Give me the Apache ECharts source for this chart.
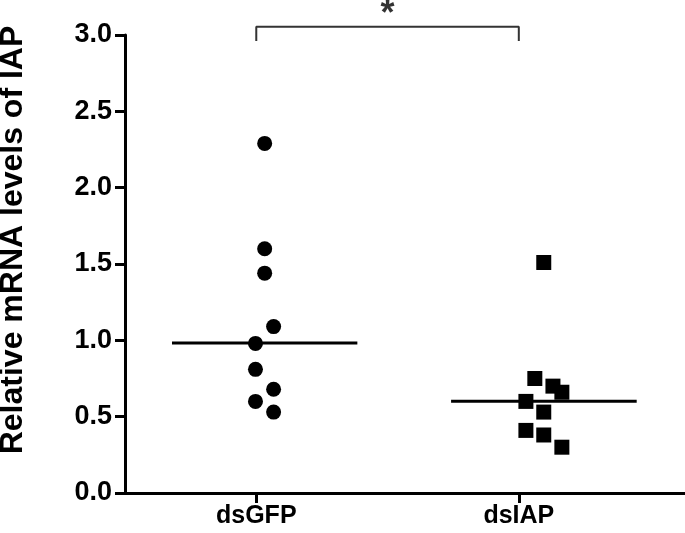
<!DOCTYPE html>
<html><head><meta charset="utf-8">
<script src="https://cdn.jsdelivr.net/npm/echarts@6/dist/echarts.min.js"></script>
<style>html,body{margin:0;padding:0;background:#fff}#c{width:685px;height:533px}</style>
</head><body><div id="c"></div>
<script>
const categories = ['dsGFP', 'dsIAP'];
const yTicks = [0, 0.5, 1.0, 1.5, 2.0, 2.5, 3.0];
const yTitle = 'Relative mRNA levels of IAP';
// dsGFP points: x position (category units, with jitter) and value
const gfpX = [0.032, 0.032, 0.032, 0.066, -0.003, -0.003, 0.066, -0.003, 0.066];
const gfpY = [2.29, 1.60, 1.44, 1.09, 0.98, 0.81, 0.68, 0.60, 0.53];
// dsIAP points
const iapX = [1.095, 1.061, 1.130, 1.164, 1.027, 1.095, 1.027, 1.095, 1.164];
const iapY = [1.51, 0.75, 0.70, 0.66, 0.60, 0.53, 0.41, 0.38, 0.30];
// mean lines [xStart, xEnd, value]
const gfpMean = [-0.321, 0.385, 0.983];
const iapMean = [0.742, 1.449, 0.601];
// significance bracket
const bracketX = [0, 1];
const bracketY = [2.96, 3.054];
const sigLabel = '*';
const sigPos = [0.5, 3.13];

const FONT = '"Liberation Sans", Arial, Helvetica, sans-serif';
const chart = echarts.init(document.getElementById('c'));
chart.setOption({
  animation: false,
  backgroundColor: '#fff',
  grid: { left: 125, right: 0, top: 35, bottom: 40, containLabel: false },
  xAxis: {
    type: 'value', min: -0.5, max: 1.633,
    splitLine: { show: false },
    axisLine: { show: true, onZero: false, lineStyle: { color: '#000', width: 3 } },
    axisTick: { show: true, inside: false, customValues: [0, 1], length: 10, lineStyle: { color: '#000', width: 3 } },
    axisLabel: { inside: false, customValues: [0, 1], formatter: v => categories[Math.round(v)], color: '#000',
      fontFamily: FONT, fontWeight: 'bold', fontSize: 25, margin: 11 }
  },
  yAxis: {
    type: 'value', min: 0, max: 3, interval: 0.5,
    splitLine: { show: false },
    axisLine: { show: true, onZero: false, lineStyle: { color: '#000', width: 3 } },
    axisTick: { show: true, inside: false, length: 10, lineStyle: { color: '#000', width: 3 } },
    axisLabel: { inside: false, formatter: v => v.toFixed(1), color: '#000', fontFamily: FONT, fontWeight: 'bold', fontSize: 27, margin: 13 }
  },
  graphic: [{
    type: 'text', x: 13, y: 240, rotation: Math.PI / 2,
    style: { text: yTitle, font: 'bold 32px ' + FONT, fill: '#000', align: 'center', verticalAlign: 'middle' }
  }],
  series: [
    { type: 'line', data: [[gfpMean[0], gfpMean[2]], [gfpMean[1], gfpMean[2]]], symbol: 'none',
      lineStyle: { color: '#000', width: 3 }, z: 1 },
    { type: 'line', data: [[iapMean[0], iapMean[2]], [iapMean[1], iapMean[2]]], symbol: 'none',
      lineStyle: { color: '#000', width: 3 }, z: 1 },
    { type: 'scatter', data: gfpX.map((x, i) => [x, gfpY[i]]), symbol: 'circle', symbolSize: 15,
      itemStyle: { color: '#000', opacity: 1 }, z: 3 },
    { type: 'scatter', data: iapX.map((x, i) => [x, iapY[i]]), symbol: 'rect', symbolSize: 15,
      itemStyle: { color: '#000', opacity: 1 }, z: 3 },
    { type: 'line', clip: false, symbol: 'none',
      data: [[bracketX[0], bracketY[0]], [bracketX[0], bracketY[1]], [bracketX[1], bracketY[1]], [bracketX[1], bracketY[0]]],
      lineStyle: { color: '#333', width: 2 } },
    { type: 'scatter', clip: false, data: [sigPos], symbolSize: 0,
      label: { show: true, position: 'inside', formatter: sigLabel, color: '#000', fontFamily: FONT, fontWeight: 'bold', fontSize: 36 } }
  ]
});
</script></body></html>
